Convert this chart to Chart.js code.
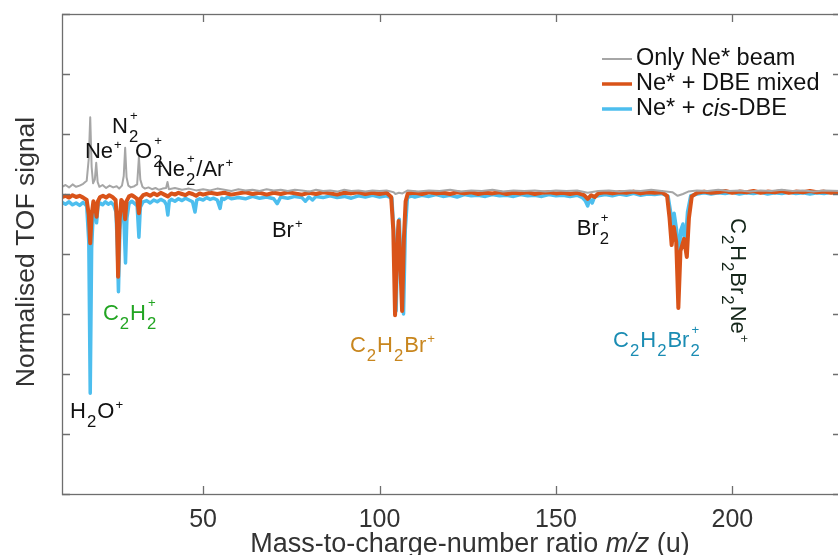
<!DOCTYPE html>
<html>
<head>
<meta charset="utf-8">
<title>TOF spectra</title>
<script src="https://cdn.jsdelivr.net/npm/chart.js@4.4.1/dist/chart.umd.min.js"></script>
<style>
  html, body { margin: 0; padding: 0; background: #fff; overflow: hidden; }
  canvas { display: block; }
</style>
</head>
<body>
<canvas id="tof" width="841" height="555"></canvas>
<script>
// m/z (u) vs normalised TOF signal
const onlyNeBeam = [
  [10,0.12],[11,0.15],[12,0.11],[13,0.16],[14,0.12],[15,0.14],[16,0.17],[17,0.22],[17.6,0.6],[18,1.28],
  [18.4,0.45],[18.8,0.18],[19.3,0.24],[19.7,0.52],[20.1,0.2],[20.6,0.12],[21.5,0.15],[22.5,0.1],[23.5,0.14],
  [24.5,0.11],[25.5,0.13],[26.2,0.09],[27,0.14],[27.5,0.3],[27.9,0.77],[28.3,0.28],[28.8,0.14],[29.5,0.11],
  [30.5,0.13],[31.3,0.16],[31.8,0.62],[32.2,0.24],[32.8,0.12],[33.5,0.09],[34.5,0.11],[35.5,0.08],[36.5,0.1],
  [37.5,0.07],[38.5,0.09],[39.5,0.1],[39.9,0.2],[40.3,0.08],[42,0.1],[44,0.07],[46,0.09],[48,0.06],[50,0.08],
  [52,0.06],[54,0.09],[56,0.07],[58,0.05],[60,0.08],[62,0.06],[64,0.07],[66,0.05],[68,0.08],[70,0.06],
  [72,0.07],[74,0.05],[76,0.07],[78,0.06],[80,0.04],[82,0.07],[84,0.05],[86,0.06],[88,0.04],[90,0.07],
  [92,0.05],[94,0.06],[96,0.04],[98,0.06],[100,0.05],[102,0.06],[104,0.03],[104.5,0],[105.5,0.02],[106.5,0.01],
  [108,0.06],[111,0.04],[114,0.06],[117,0.05],[120,0.07],[123,0.04],[126,0.06],[129,0.05],[132,0.07],
  [135,0.04],[138,0.06],[141,0.05],[144,0.06],[147,0.04],[150,0.06],[153,0.05],[156,0.06],[159,0.02],
  [162,0.05],[165,0.06],[168,0.04],[171,0.06],[174,0.05],[177,0.07],[180,0.05],[183,0.03],[184.5,-0.03],
  [186,0],[187.5,0.04],[190,0.06],[193,0.05],[196,0.07],[199,0.05],[202,0.06],[205,0.04],[208,0.06],
  [211,0.05],[214,0.07],[217,0.05],[220,0.06],[223,0.04],[226,0.06],[231,0.05]
];

const dbeMixed = [
  [10,-0.05],[11,-0.03],[12,-0.06],[13,-0.02],[14,-0.05],[15,-0.03],[16,-0.06],[17,-0.1],[17.6,-0.35],[18,-0.82],
  [18.4,-0.35],[18.9,-0.12],[19.4,-0.2],[19.8,-0.38],[20.2,-0.12],[20.8,-0.05],[21.6,-0.03],[22.5,-0.06],
  [23.4,-0.02],[24.3,-0.05],[25.2,-0.1],[25.6,-0.5],[25.9,-1.38],[26.3,-0.45],[26.8,-0.1],[27.4,-0.15],
  [27.9,-0.42],[28.3,-0.12],[29,-0.04],[29.8,-0.02],[30.6,-0.05],[31.3,-0.08],[31.8,-0.32],[32.2,-0.08],
  [33,-0.02],[34,0],[35,-0.03],[36,0.01],[37,-0.02],[38,0.02],[39,-0.01],[40,-0.04],[41,0.01],[42,-0.01],
  [43,0.02],[44,0],[45,-0.02],[46,0.02],[47,0],[48,-0.03],[49,0.01],[50,-0.01],[52,0.02],[54,0],[56,0.02],
  [58,-0.01],[60,0.01],[62,0.03],[64,0],[66,0.02],[68,-0.01],[70,0.02],[72,0],[74,0.03],[76,0.01],[78,-0.01],
  [80,0.02],[82,0],[84,0.03],[86,0.01],[88,-0.01],[90,0.02],[92,0.01],[94,0.03],[96,0],[98,0.02],[100,0],
  [102,0.02],[103.3,-0.05],[103.9,-0.6],[104.4,-2.02],[104.9,-1.1],[105.4,-0.45],[105.9,-1.2],[106.4,-1.95],
  [106.9,-0.75],[107.4,-0.12],[108,0.01],[110,0.02],[112,0],[114,0.03],[116,0.01],[118,0.02],[120,0],
  [122,0.03],[124,0.01],[126,0.03],[128,0],[130,0.02],[132,0.01],[134,0.03],[136,0],[138,0.02],[140,0.01],
  [142,0.03],[144,0],[146,0.02],[148,0.03],[150,0.01],[152,0.02],[154,0],[156,0.02],[158,-0.02],[159,-0.08],
  [160,-0.02],[161,-0.05],[162,0.01],[164,0.03],[166,0.01],[168,0.03],[170,0.02],[172,0.04],[174,0.01],
  [176,0.03],[178,0.02],[180,0.03],[181.5,-0.03],[182.2,-0.4],[182.8,-0.85],[183.4,-0.55],[184.1,-0.8],
  [184.7,-1.9],[185.3,-0.95],[186.3,-0.75],[187.1,-1.05],[187.7,-0.4],[188.5,-0.04],[190,0.02],[192,0.04],
  [194,0.02],[196,0.03],[198,0.05],[200,0.02],[202,0.04],[204,0.03],[206,0.05],[208,0.02],[210,0.04],
  [212,0.03],[214,0.05],[216,0.02],[218,0.04],[220,0.03],[222,0.05],[224,0.03],[226,0.04],[228,0.02],[231,0.04]
];

const cisDbe = [
  [10,-0.14],[11,-0.17],[12,-0.13],[13,-0.18],[14,-0.15],[15,-0.19],[16,-0.14],[17,-0.2],[17.6,-0.8],[18,-3.32],
  [18.4,-0.9],[18.9,-0.25],[19.4,-0.22],[19.8,-0.48],[20.2,-0.2],[20.8,-0.15],[21.5,-0.18],[22.3,-0.13],
  [23.1,-0.17],[23.9,-0.14],[24.7,-0.19],[25.3,-0.3],[25.7,-0.9],[26,-1.63],[26.4,-0.6],[26.9,-0.2],
  [27.5,-0.35],[28,-1.15],[28.4,-0.4],[29,-0.16],[29.8,-0.12],[30.6,-0.16],[31.3,-0.2],[31.8,-0.72],
  [32.2,-0.22],[33,-0.13],[34,-0.11],[35,-0.15],[36,-0.1],[37,-0.13],[38,-0.09],[39,-0.12],[39.6,-0.18],
  [40,-0.35],[40.4,-0.12],[41,-0.09],[42,-0.12],[43,-0.08],[44,-0.11],[45,-0.07],[46,-0.1],[47,-0.13],
  [47.7,-0.3],[48.2,-0.1],[49,-0.08],[50,-0.1],[51,-0.06],[52,-0.09],[53,-0.07],[54,-0.1],[54.8,-0.24],
  [55.3,-0.07],[56,-0.09],[57,-0.05],[58,-0.08],[60,-0.06],[62,-0.08],[64,-0.04],[66,-0.07],[68,-0.05],
  [70,-0.08],[71,-0.16],[72,-0.05],[74,-0.07],[76,-0.04],[78,-0.06],[79,-0.12],[80,-0.05],[81,-0.1],
  [82,-0.04],[84,-0.06],[86,-0.03],[88,-0.06],[90,-0.04],[92,-0.07],[94,-0.03],[96,-0.05],[98,-0.02],
  [100,-0.05],[102,-0.03],[103.5,-0.07],[104.2,-0.8],[104.7,-1.95],[105.2,-0.6],[105.6,-0.42],[106.2,-1.35],
  [106.8,-2.0],[107.3,-0.6],[107.9,-0.06],[109,-0.03],[110,-0.05],[112,-0.02],[114,-0.04],[116,-0.01],
  [118,-0.04],[120,-0.02],[122,-0.05],[124,-0.01],[126,-0.03],[128,-0.02],[130,-0.04],[132,-0.01],
  [134,-0.03],[136,-0.02],[138,-0.04],[140,-0.01],[142,-0.03],[144,-0.02],[146,-0.04],[148,-0.01],
  [150,-0.03],[152,-0.02],[154,-0.04],[156,-0.02],[157.5,-0.06],[158.4,-0.12],[159,-0.2],[159.6,-0.08],
  [160.3,-0.15],[161,-0.04],[162,-0.03],[164,-0.01],[166,-0.03],[168,0],[170,-0.02],[172,0.01],[174,-0.02],
  [176,0],[178,-0.01],[180,0.01],[181.8,-0.04],[182.5,-0.3],[183,-0.6],[183.5,-0.32],[184.2,-0.6],
  [184.8,-1.07],[185.4,-0.6],[186,-0.5],[186.6,-0.88],[187.3,-0.3],[188.2,-0.03],[190,0],[192,0.02],
  [194,0],[196,0.02],[198,0.01],[200,0.03],[202,0],[204,0.02],[206,0.01],[208,0.03],[210,0],[212,0.02],
  [214,0.01],[216,0.03],[218,0.01],[220,0.02],[222,0],[224,0.02],[226,0.01],[228,0.03],[231,0.01]
];

// legend names, "~" toggles italics
const seriesNames = ['Only Ne* beam', 'Ne* + DBE mixed', 'Ne* + ~cis~-DBE'];
const seriesColors = ['#a6a6a6', '#d95319', '#4dbeee'];
const seriesWidths = [2, 4, 3.5];

const xTickValues = [50, 100, 150, 200];
const yTickValues = [-5, -4, -3, -2, -1, 0, 1, 2, 3];

const xTitle = ['Mass-to-charge-number ratio ', 'm/z', ' (u)'];
const yTitle = 'Normalised TOF signal';

// peak labels: "_" subscript, "^" superscript, placed at (m/z, signal)
const peakLabels = [
  { text: 'Ne^+', mz: 16.5, sig: 0.6, color: '#111' },
  { text: 'N_2^+', mz: 24.2, sig: 1.02, color: '#111' },
  { text: 'O_2^+', mz: 30.7, sig: 0.6, color: '#111' },
  { text: 'Ne_2^+/Ar^+', mz: 36.9, sig: 0.3, color: '#111' },
  { text: 'Br^+', mz: 69.5, sig: -0.72, color: '#111' },
  { text: 'H_2O^+', mz: 12.3, sig: -3.73, color: '#111' },
  { text: 'C_2H_2^+', mz: 21.6, sig: -2.1, color: '#22a522' },
  { text: 'C_2H_2Br^+', mz: 91.6, sig: -2.63, color: '#c8861e' },
  { text: 'Br_2^+', mz: 155.9, sig: -0.68, color: '#111' },
  { text: 'C_2H_2Br_2^+', mz: 166.2, sig: -2.55, color: '#1a8cb3' },
  { text: 'C_2H_2Br_2Ne^+', mz: 199.6, sig: -0.4, color: '#15261a', rotate: true }
];

const FONT = '"Liberation Sans", Arial, Helvetica, sans-serif';
const AXIS_COLOR = '#6e6e6e';

function toXY(pairs) {
  return pairs.map(p => ({ x: p[0], y: p[1] }));
}

function drawChem(ctx, str, x0, y0, size) {
  let x = x0;
  let run = '';
  const flush = () => {
    if (!run) return;
    ctx.font = `${size}px ${FONT}`;
    ctx.fillText(run, x, y0);
    x += ctx.measureText(run).width;
    run = '';
  };
  let i = 0;
  while (i < str.length) {
    const c = str[i];
    if (c === '_') {
      flush();
      const ch = str[i + 1];
      const stacked = str[i + 2] === '^';
      x += 1;
      ctx.font = `${size * 0.76}px ${FONT}`;
      ctx.fillText(ch, x, y0 + size * 0.4);
      let w = ctx.measureText(ch).width;
      if (stacked) {
        const sup = str[i + 3];
        ctx.font = `${size * 0.6}px ${FONT}`;
        ctx.fillText(sup, x + 1, y0 - size * 0.6);
        w = Math.max(w, ctx.measureText(sup).width + 1);
        i += 4;
      } else {
        i += 2;
      }
      x += w + 1;
    } else if (c === '^') {
      flush();
      const ch = str[i + 1];
      ctx.font = `${size * 0.6}px ${FONT}`;
      ctx.fillText(ch, x + 1, y0 - size * 0.4);
      x += ctx.measureText(ch).width + 2;
      i += 2;
    } else {
      run += c;
      i++;
    }
  }
  flush();
}

// odd-numbered parts are italic
function drawMixed(ctx, parts, x0, y0, size) {
  let x = x0;
  parts.forEach((p, k) => {
    ctx.font = `${k % 2 === 1 ? 'italic ' : ''}${size}px ${FONT}`;
    ctx.fillText(p, x, y0);
    x += ctx.measureText(p).width;
  });
}

function mixedWidth(ctx, parts, size) {
  let w = 0;
  parts.forEach((p, k) => {
    ctx.font = `${k % 2 === 1 ? 'italic ' : ''}${size}px ${FONT}`;
    w += ctx.measureText(p).width;
  });
  return w;
}

const matlabAxes = {
  id: 'matlabAxes',
  afterDraw(chart) {
    const { ctx, chartArea: a, scales: { x, y } } = chart;
    ctx.save();

    // box and inward ticks
    ctx.strokeStyle = AXIS_COLOR;
    ctx.lineWidth = 1.3;
    ctx.strokeRect(a.left + 0.5, a.top + 0.5, a.right - a.left, a.bottom - a.top);
    ctx.beginPath();
    xTickValues.forEach(v => {
      const px = Math.round(x.getPixelForValue(v)) + 0.5;
      ctx.moveTo(px, a.bottom); ctx.lineTo(px, a.bottom - 8);
      ctx.moveTo(px, a.top); ctx.lineTo(px, a.top + 8);
    });
    yTickValues.forEach(v => {
      const py = Math.round(y.getPixelForValue(v)) + 0.5;
      ctx.moveTo(a.left, py); ctx.lineTo(a.left + 8, py);
      ctx.moveTo(a.right, py); ctx.lineTo(a.right - 8, py);
    });
    ctx.stroke();

    // x tick labels
    ctx.fillStyle = '#333';
    ctx.font = `25px ${FONT}`;
    ctx.textAlign = 'center';
    ctx.textBaseline = 'alphabetic';
    xTickValues.forEach(v => {
      ctx.fillText(String(v), x.getPixelForValue(v), a.bottom + 33);
    });

    // axis titles
    ctx.textAlign = 'left';
    const tw = mixedWidth(ctx, xTitle, 27);
    drawMixed(ctx, xTitle, 470 - tw / 2, a.bottom + 58, 27);

    ctx.save();
    ctx.translate(34, (a.top + a.bottom) / 2 - 2);
    ctx.rotate(-Math.PI / 2);
    ctx.textAlign = 'center';
    ctx.font = `26.5px ${FONT}`;
    ctx.fillText(yTitle, 0, 0);
    ctx.restore();

    // peak labels
    ctx.textAlign = 'left';
    peakLabels.forEach(l => {
      ctx.fillStyle = l.color;
      const px = x.getPixelForValue(l.mz);
      const py = y.getPixelForValue(l.sig);
      if (l.rotate) {
        ctx.save();
        ctx.translate(px, py);
        ctx.rotate(Math.PI / 2);
        drawChem(ctx, l.text, 0, 0, 22);
        ctx.restore();
      } else {
        drawChem(ctx, l.text, px, py, 22);
      }
    });

    // legend (top right, no frame)
    const lx = x.getPixelForValue(10) + 540;
    ctx.textBaseline = 'middle';
    chart.data.datasets.forEach((ds, k) => {
      const ly = a.top + 45 + k * 25;
      ctx.strokeStyle = ds.borderColor;
      ctx.lineWidth = Math.min(ds.borderWidth, 3.5);
      ctx.beginPath();
      ctx.moveTo(lx, ly); ctx.lineTo(lx + 30, ly);
      ctx.stroke();
      ctx.fillStyle = '#111';
      drawMixed(ctx, seriesNames[k].split('~'), lx + 34, ly, 23.5);
    });

    ctx.restore();
  }
};

const seriesData = [onlyNeBeam, dbeMixed, cisDbe];

new Chart(document.getElementById('tof'), {
  type: 'line',
  data: {
    datasets: seriesData.map((d, k) => ({
      label: seriesNames[k].replace(/~/g, ''),
      data: toXY(d),
      borderColor: seriesColors[k],
      borderWidth: seriesWidths[k],
      pointRadius: 0,
      fill: false,
      tension: 0,
      borderJoinStyle: 'round',
      borderCapStyle: 'round'
    }))
  },
  options: {
    responsive: false,
    animation: false,
    layout: { padding: { left: 62, top: 14, right: 0, bottom: 61 } },
    scales: {
      x: { type: 'linear', min: 10, max: 230.8, display: false },
      y: { type: 'linear', min: -5, max: 3, display: false }
    },
    plugins: {
      legend: { display: false },
      tooltip: { enabled: false }
    }
  },
  plugins: [matlabAxes]
});
</script>
</body>
</html>
